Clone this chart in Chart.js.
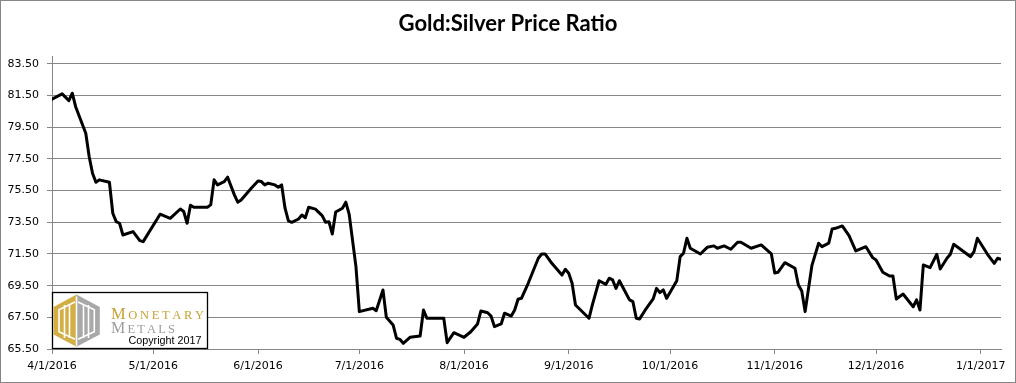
<!DOCTYPE html>
<html><head><meta charset="utf-8">
<script src="https://cdn.jsdelivr.net/npm/chart.js@4/dist/chart.umd.min.js"></script>
<style>html,body{margin:0;padding:0;background:#fff;overflow:hidden}canvas{display:block}</style>
</head><body>
<canvas id="c" width="1016" height="383"></canvas>
<script>
const chartTitle = 'Gold:Silver Price Ratio';
const dates = [
'4/1/2016','4/4/2016','4/6/2016','4/7/2016','4/8/2016','4/11/2016','4/12/2016','4/13/2016','4/14/2016','4/15/2016',
'4/18/2016','4/19/2016','4/20/2016','4/21/2016','4/22/2016','4/25/2016','4/27/2016','4/28/2016','5/3/2016','5/6/2016',
'5/9/2016','5/10/2016','5/11/2016','5/12/2016','5/13/2016','5/17/2016','5/18/2016','5/19/2016','5/20/2016','5/22/2016',
'5/23/2016','5/25/2016','5/26/2016','5/27/2016','5/30/2016','6/1/2016','6/2/2016','6/3/2016','6/4/2016','6/6/2016',
'6/7/2016','6/8/2016','6/9/2016','6/10/2016','6/11/2016','6/13/2016','6/14/2016','6/15/2016','6/16/2016','6/18/2016',
'6/20/2016','6/21/2016','6/22/2016','6/23/2016','6/24/2016','6/26/2016','6/27/2016','6/28/2016','6/30/2016','7/1/2016',
'7/5/2016','7/6/2016','7/8/2016','7/9/2016','7/11/2016','7/12/2016','7/13/2016','7/14/2016','7/16/2016','7/19/2016',
'7/20/2016','7/21/2016','7/26/2016','7/27/2016','7/29/2016','8/1/2016','8/3/2016','8/5/2016','8/6/2016','8/8/2016',
'8/9/2016','8/10/2016','8/12/2016','8/13/2016','8/15/2016','8/16/2016','8/17/2016','8/18/2016','8/20/2016','8/23/2016',
'8/24/2016','8/25/2016','8/27/2016','8/30/2016','8/31/2016','9/1/2016','9/2/2016','9/3/2016','9/7/2016','9/8/2016',
'9/10/2016','9/12/2016','9/13/2016','9/14/2016','9/15/2016','9/16/2016','9/19/2016','9/20/2016','9/21/2016','9/22/2016',
'9/24/2016','9/26/2016','9/27/2016','9/28/2016','9/29/2016','9/30/2016','10/3/2016','10/4/2016','10/5/2016','10/6/2016',
'10/7/2016','10/10/2016','10/12/2016','10/14/2016','10/15/2016','10/17/2016','10/19/2016','10/21/2016','10/22/2016','10/25/2016',
'10/28/2016','10/31/2016','11/1/2016','11/2/2016','11/4/2016','11/7/2016','11/8/2016','11/9/2016','11/10/2016','11/12/2016',
'11/14/2016','11/15/2016','11/17/2016','11/18/2016','11/19/2016','11/21/2016','11/23/2016','11/25/2016','11/28/2016','11/30/2016',
'12/1/2016','12/3/2016','12/5/2016','12/6/2016','12/7/2016','12/9/2016','12/12/2016','12/13/2016','12/14/2016','12/15/2016',
'12/17/2016','12/19/2016','12/20/2016','12/22/2016','12/23/2016','12/24/2016','12/29/2016','12/30/2016','12/31/2016','1/3/2017',
'1/5/2017','1/6/2017','1/7/2017'
];
const ratio = [
81.27,81.61,81.18,81.65,80.80,79.12,77.65,76.60,76.03,76.18,
76.03,74.07,73.54,73.44,72.70,72.91,72.34,72.28,74.01,73.75,
74.34,74.18,73.44,74.58,74.45,74.45,74.60,76.18,75.86,76.07,
76.35,75.23,74.77,74.91,75.65,76.11,76.07,75.86,75.97,75.86,
75.71,75.86,74.39,73.59,73.50,73.71,73.96,73.79,74.45,74.33,
73.92,73.50,73.54,72.76,74.15,74.39,74.77,74.00,70.70,67.86,
68.07,67.92,69.23,67.50,67.02,66.18,66.11,65.86,66.24,66.32,
67.96,67.44,67.44,65.90,66.53,66.24,66.59,67.08,67.90,67.79,
67.58,66.91,67.08,67.76,67.58,67.96,68.64,68.70,69.65,71.23,
71.50,71.50,70.91,70.17,70.53,70.28,69.65,68.28,67.44,68.28,
69.81,69.58,69.97,69.86,69.33,69.81,68.60,68.49,67.44,67.40,
68.07,68.66,69.33,69.06,69.23,68.70,69.81,71.33,71.55,72.49,
71.86,71.50,71.92,72.01,71.86,72.01,71.80,72.24,72.24,71.86,
72.07,71.50,70.30,70.35,70.95,70.60,69.54,69.16,67.86,70.76,
72.18,71.96,72.18,73.08,73.12,73.27,72.66,71.69,71.96,71.27,
71.12,70.35,70.11,70.11,68.66,68.97,68.17,68.60,67.96,70.81,
70.64,71.48,70.55,71.23,71.48,72.11,71.33,71.65,72.49,71.48,
70.91,71.23,71.17
];
const xTickLabels = ['4/1/2016','5/1/2016','6/1/2016','7/1/2016','8/1/2016','9/1/2016','10/1/2016','11/1/2016','12/1/2016','1/1/2017'];
const yTickLabels = ['65.50','67.50','69.50','71.50','73.50','75.50','77.50','79.50','81.50','83.50'];
const xStart = '4/1/2016', xEnd = '1/7/2017';
const yMin = 65.5, yMax = 84;
const logoWords = ['MONETARY', 'METALS'];
const copyrightText = 'Copyright 2017';

function dayOf(s){
  const p = s.split('/').map(Number);
  const q = xStart.split('/').map(Number);
  return Math.round((Date.UTC(p[2],p[0]-1,p[1]) - Date.UTC(q[2],q[0]-1,q[1]))/86400000);
}

const GRID = '#868686';
const TICKFONT = {family:'DejaVu Sans', size:11};

function smallCaps(ctx, word, x, base, big, small, width, color){
  const fam = '"Liberation Serif", serif';
  const parts = word.split('').map((ch,i)=>({ch, f: (i===0? big: small)+'px '+fam}));
  let tw = 0;
  parts.forEach(p=>{ctx.font=p.f; p.w=ctx.measureText(p.ch).width; tw+=p.w;});
  const gap = (width - tw)/(parts.length-1);
  ctx.fillStyle = color; ctx.textBaseline='alphabetic'; ctx.textAlign='left';
  let cx = x;
  parts.forEach(p=>{ctx.font=p.f; ctx.fillText(p.ch, cx, base); cx += p.w + gap;});
}

const decoPlugin = {
  id:'deco',
  beforeDraw(chart){
    const c = chart.ctx;
    c.save(); c.fillStyle='#fff'; c.fillRect(0,0,chart.width,chart.height); c.restore();
  },
  afterDraw(chart){
    const c = chart.ctx;
    c.save();
    // title
    let fs = 19;
    c.font = 'bold '+fs+'px Lato, "Open Sans", sans-serif';
    const w = c.measureText(chartTitle).width;
    fs = fs*219/w;
    c.font = 'bold '+fs.toFixed(2)+'px Lato, "Open Sans", sans-serif';
    c.fillStyle='#000'; c.textAlign='center'; c.textBaseline='alphabetic';
    c.fillText(chartTitle, 508, 31);

    // logo box
    const bx=52, by=292.5, bw=155, bh=56;
    c.fillStyle='#fff'; c.fillRect(bx,by,bw,bh);
    c.strokeStyle='#000'; c.lineWidth=1.3; c.strokeRect(bx+0.5,by,bw,bh);
    // hexagon
    const cx=76.5, top=294.5, bot=346.8, l=53.5, r=99.8, uy=307, ly=334.5;
    c.fillStyle='#D3AE45';
    c.beginPath(); c.moveTo(cx,top); c.lineTo(l,uy); c.lineTo(l,ly); c.lineTo(cx,bot); c.closePath(); c.fill();
    c.fillStyle='#A8A8A8';
    c.beginPath(); c.moveTo(cx,top); c.lineTo(r,uy); c.lineTo(r,ly); c.lineTo(cx,bot); c.closePath(); c.fill();
    c.strokeStyle='#fff'; c.lineWidth=1.6;
    c.beginPath(); c.moveTo(cx,top+2); c.lineTo(cx,bot-1); c.stroke();
    const ins=5.5;
    c.beginPath(); c.moveTo(cx-1.5,top+ins+2); c.lineTo(l+ins,uy+ins*0.5); c.lineTo(l+ins,ly-ins*0.5); c.lineTo(cx-1.5,bot-ins-2); c.stroke();
    c.beginPath(); c.moveTo(cx+1.5,top+ins+2); c.lineTo(r-ins,uy+ins*0.5); c.lineTo(r-ins,ly-ins*0.5); c.lineTo(cx+1.5,bot-ins-2); c.stroke();
    [64.5, 69.5, 83.5, 88.5].forEach(xx=>{c.beginPath(); c.moveTo(xx,305); c.lineTo(xx,338); c.stroke();});
    // words
    smallCaps(c, logoWords[0], 111, 318.5, 16.5, 12.5, 93, '#C9A136');
    smallCaps(c, logoWords[1], 111, 332.8, 16, 12.5, 64, '#9C9C9C');
    c.font='11px "Liberation Sans", Arial, sans-serif';
    let cw = c.measureText(copyrightText).width;
    c.font=(11*73/cw).toFixed(2)+'px "Liberation Sans", Arial, sans-serif';
    c.fillStyle='#000'; c.textAlign='left';
    c.fillText(copyrightText, 128.5, 344.3);

    // outer border
    c.strokeStyle=GRID; c.lineWidth=1;
    c.strokeRect(0.5,0.5,chart.width-1,chart.height-1);
    c.restore();
  }
};

new Chart(document.getElementById('c'), {
  type:'line',
  data:{datasets:[{
    data: dates.map((d,i)=>({x:dayOf(d), y:ratio[i]})),
    borderColor:'#000', borderWidth:3, pointRadius:0, tension:0,
    borderJoinStyle:'round', borderCapStyle:'round', fill:false
  }]},
  options:{
    responsive:false, animation:false, events:[],
    layout:{padding:{top:56,left:0,right:15,bottom:0}},
    plugins:{legend:{display:false}, tooltip:{enabled:false}, title:{display:false}},
    scales:{
      x:{
        type:'linear', min:0, max:dayOf(xEnd),
        afterBuildTicks:(s)=>{ s.ticks = xTickLabels.map(l=>({value:dayOf(l)})); },
        afterFit:(s)=>{ s.height = 34; },
        ticks:{autoSkip:false, maxRotation:0, minRotation:0, padding:6, color:'#000', font:TICKFONT,
          callback:(v,i)=>xTickLabels[i]},
        grid:{drawOnChartArea:false, drawTicks:true, tickLength:5, color:GRID, lineWidth:1},
        border:{display:true, color:GRID, width:1}
      },
      y:{
        type:'linear', min:yMin, max:yMax,
        afterBuildTicks:(s)=>{ s.ticks = yTickLabels.map(l=>({value:parseFloat(l)})); },
        afterFit:(s)=>{ s.width = 52; },
        ticks:{padding:8, color:'#000', font:TICKFONT, callback:(v,i)=>yTickLabels[i]},
        grid:{color:GRID, lineWidth:1, drawTicks:true, tickLength:5},
        border:{display:true, color:GRID, width:1}
      }
    }
  },
  plugins:[decoPlugin]
});
</script>
</body></html>
